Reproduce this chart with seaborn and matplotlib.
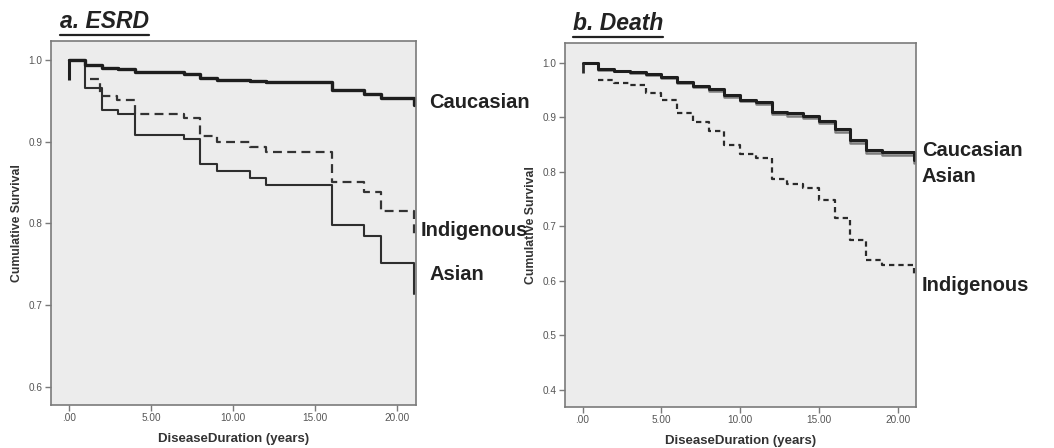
import matplotlib
matplotlib.use("Agg")
import matplotlib.pyplot as plt
import seaborn as sns
import pandas as pd
from matplotlib.lines import Line2D

sns.set_theme(style="white")
plt.rcParams['font.family'] = ['Liberation Sans', 'DejaVu Sans']

# ---- dane (Kaplan-Meier) ----
# a. ESRD
esrd_cau_t = [0, 1, 2, 3, 4, 7, 8, 9, 11, 12, 16, 18, 19, 21, 21]
esrd_cau_s = [1.0, 0.994, 0.990, 0.989, 0.985, 0.983, 0.978, 0.976, 0.974, 0.973, 0.963, 0.959, 0.953, 0.953, 0.945]
esrd_asi_t = [0, 1, 2, 3, 4, 7, 8, 9, 11, 12, 16, 18, 19, 21, 21]
esrd_asi_s = [1.0, 0.966, 0.939, 0.934, 0.908, 0.903, 0.873, 0.864, 0.856, 0.847, 0.798, 0.784, 0.751, 0.751, 0.714]
esrd_ind_t = [1.3, 1.9, 2.9, 4, 7, 8, 9, 11, 12, 16, 18, 19, 21, 21]
esrd_ind_s = [0.977, 0.956, 0.951, 0.934, 0.929, 0.907, 0.900, 0.894, 0.887, 0.851, 0.839, 0.815, 0.815, 0.785]
esrd_t0_drop = 0.976

# b. Death
death_cau_t = [0, 1, 2, 3, 4, 5, 6, 7, 8, 9, 10, 11, 12, 13, 14, 15, 16, 17, 18, 19, 21, 21]
death_cau_s = [1.0, 0.988, 0.985, 0.983, 0.979, 0.974, 0.964, 0.958, 0.951, 0.941, 0.932, 0.928, 0.910,
               0.907, 0.903, 0.893, 0.878, 0.858, 0.840, 0.836, 0.836, 0.822]
death_asi_t = death_cau_t
death_asi_s = [1.0, 0.987, 0.984, 0.982, 0.977, 0.972, 0.962, 0.955, 0.948, 0.938, 0.929, 0.925, 0.906,
               0.903, 0.899, 0.889, 0.873, 0.853, 0.835, 0.831, 0.831, 0.817]
death_ind_t = [1, 2, 3, 4, 5, 6, 7, 8, 9, 10, 11, 12, 13, 14, 15, 16, 17, 18, 19, 21, 21]
death_ind_s = [0.969, 0.963, 0.959, 0.944, 0.932, 0.908, 0.892, 0.875, 0.849, 0.832, 0.825, 0.786,
               0.777, 0.771, 0.748, 0.716, 0.675, 0.638, 0.629, 0.629, 0.608]
death_t0_drop = 0.981

x_ticks = [0, 5, 10, 15, 20]
x_tick_labels = ['.00', '5.00', '10.00', '15.00', '20.00']
y_ticks_a = [0.6, 0.7, 0.8, 0.9, 1.0]
y_ticks_b = [0.4, 0.5, 0.6, 0.7, 0.8, 0.9, 1.0]

BG = '#ececec'
FRAME = '#7a7a7a'

fig = plt.figure(figsize=(10.54, 4.48), dpi=100)
ax_a = fig.add_axes([0.0481, 0.096, 0.3466, 0.8125])
ax_b = fig.add_axes([0.536, 0.0922, 0.3328, 0.8111])


def krok(ax, t, s, **kw):
    df = pd.DataFrame({'t': t, 's': s})
    sns.lineplot(data=df, x='t', y='s', ax=ax, estimator=None, sort=False,
                 drawstyle='steps-post', **kw)


# --- panel a ---
krok(ax_a, esrd_ind_t, esrd_ind_s, color='#333333', lw=1.6, linestyle=(0, (4, 2.4)))
krok(ax_a, esrd_asi_t, esrd_asi_s, color='#2e2e2e', lw=1.5)
krok(ax_a, esrd_cau_t, esrd_cau_s, color='#1e1e1e', lw=2.4)
ax_a.vlines(0, esrd_t0_drop, 1.0, color='#1e1e1e', lw=2.2)

# --- panel b ---
krok(ax_b, death_ind_t, death_ind_s, color='#2a2a2a', lw=1.6, linestyle=(0, (2.4, 1.8)))
krok(ax_b, death_asi_t, death_asi_s, color='#7d7d7d', lw=1.8)
krok(ax_b, death_cau_t, death_cau_s, color='#1e1e1e', lw=2.2)
ax_b.vlines(0, death_t0_drop, 1.0, color='#2a2a2a', lw=2.0)

for ax, yt, ylim in [(ax_a, y_ticks_a, (0.5776, 1.0233)), (ax_b, y_ticks_b, (0.3694, 1.0356))]:
    ax.set_facecolor(BG)
    ax.set_xlim(-1.12, 21.14)
    ax.set_ylim(*ylim)
    ax.set_xticks(x_ticks)
    ax.set_xticklabels(x_tick_labels)
    ax.set_yticks(yt)
    ax.set_yticklabels([f'{v:.1f}' for v in yt])
    ax.tick_params(axis='both', which='both', direction='out', length=4, width=1,
                   color=FRAME, labelsize=7.2, labelcolor='#555555', pad=2,
                   left=True, bottom=True)
    for sp in ax.spines.values():
        sp.set_color(FRAME)
        sp.set_linewidth(1.2)
    ax.set_xlabel('DiseaseDuration (years)', fontsize=9.5, fontweight='bold', color='#333333', labelpad=7)
    ax.set_ylabel('Cumulative Survival', fontsize=8.8, fontweight='bold', color='#333333', labelpad=4)
    ax.grid(False)

# --- etykiety grup ---
lab = dict(fontsize=14.5, fontweight='bold', color='#222222', va='center', ha='left')
fig.text(429 / 1054, 1 - 103 / 448, 'Caucasian', **lab)
fig.text(421 / 1054, 1 - 230 / 448, 'Indigenous', **lab)
fig.text(429 / 1054, 1 - 275 / 448, 'Asian', **lab)
fig.text(922 / 1054, 1 - 150 / 448, 'Caucasian', **lab)
fig.text(922 / 1054, 1 - 177 / 448, 'Asian', **lab)
fig.text(922 / 1054, 1 - 285 / 448, 'Indigenous', **lab)

# --- tytuly z podkresleniem ---
tytuly = []
tytuly.append(fig.text(60 / 1054, 1 - 22 / 448, 'a. ESRD', fontsize=16.5, fontweight='bold',
                       style='italic', color='#222222', va='center', ha='left'))
tytuly.append(fig.text(573 / 1054, 1 - 24 / 448, 'b. Death', fontsize=16.5, fontweight='bold',
                       style='italic', color='#222222', va='center', ha='left'))
fig.canvas.draw()
inv = fig.transFigure.inverted()
for t in tytuly:
    bb = t.get_window_extent().transformed(inv)
    fig.add_artist(Line2D([bb.x0, bb.x1], [bb.y0 - 0.004, bb.y0 - 0.004],
                          transform=fig.transFigure, color='#222222', lw=1.6))

fig.savefig('out.png', dpi=100, facecolor='white')
